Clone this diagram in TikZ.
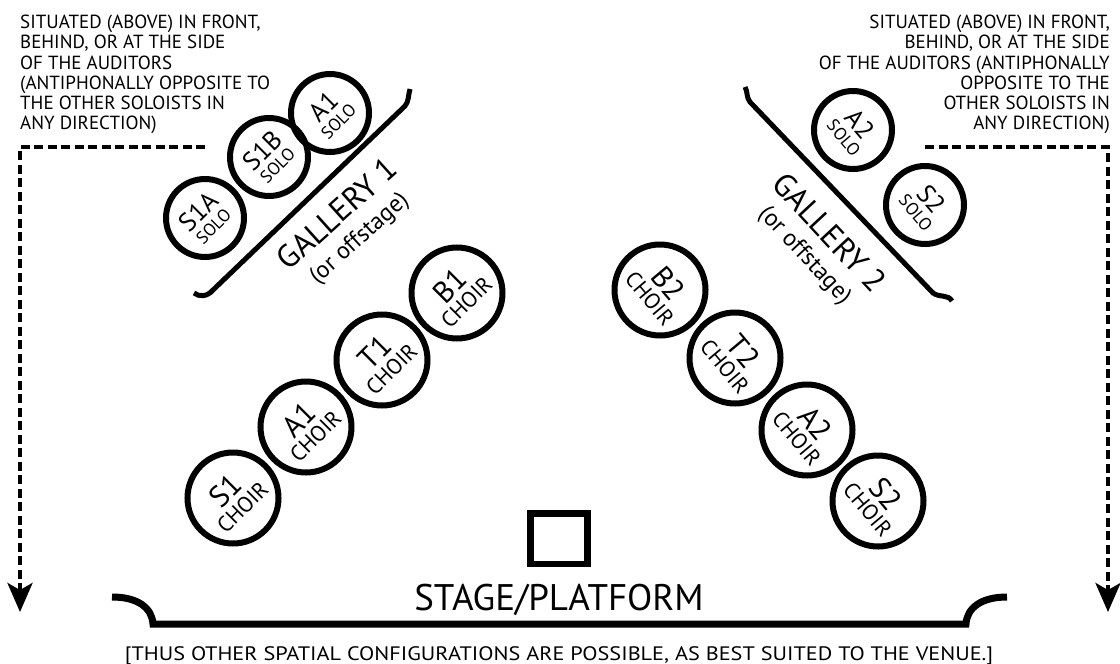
\documentclass[tikz,border=0pt]{standalone}
\usepackage{fontspec}
\setmainfont{PT Sans}
\usetikzlibrary{arrows.meta}
\newcommand\choirlab[1]{#1\\{\fontsize{22}{22}\selectfont CHOIR}}
\newcommand\sololab[1]{#1\\{\fontsize{17.5}{17.5}\selectfont SOLO}}
\begin{document}
\begin{tikzpicture}[x=1pt,y=-1pt,
  seat/.style={circle, draw, line width=6pt, inner sep=0pt, align=center},
  choir/.style={seat, minimum size=91pt, font=\fontsize{30}{21}\selectfont},
  solo/.style={seat, minimum size=78pt, font=\fontsize{26}{18}\selectfont},
  gal/.style={line width=5pt},
  note/.style={font=\fontsize{19}{20.2}\selectfont, inner sep=0pt},
  guide/.style={line width=4pt, dash pattern=on 9pt off 4.5pt, -{Stealth[length=29pt,width=25pt,inset=7pt]}},
  galtext/.style={align=center, inner sep=0pt, font=\fontsize{32}{29}\selectfont},
]
\useasboundingbox (0,0) rectangle (1120,664);

% notes
\node[note, anchor=north west, align=left] (noteL) at (20,15) {SITUATED (ABOVE) IN FRONT,\\BEHIND, OR AT THE SIDE\\OF THE AUDITORS\\(ANTIPHONALLY OPPOSITE TO\\THE OTHER SOLOISTS IN\\ANY DIRECTION)};
\node[note, anchor=north east, align=right] (noteR) at (1110,15) {SITUATED (ABOVE) IN FRONT,\\BEHIND, OR AT THE SIDE\\OF THE AUDITORS (ANTIPHONALLY\\OPPOSITE TO THE\\OTHER SOLOISTS IN\\ANY DIRECTION)};

% left solo
\node[solo, rotate=45] (s1a) at (205,218) {\sololab{S1A}};
\node[solo, rotate=45] (s1b) at (269,157) {\sololab{S1B}};
\node[solo, rotate=45] (a1s) at (330,113) {\sololab{A1}};
% right solo
\node[solo, rotate=-50] (a2s) at (853,130) {\sololab{A2}};
\node[solo, rotate=-50] (s2s) at (925,205) {\sololab{S2}};

% left choir
\node[choir, rotate=45] (s1c) at (233,498) {\choirlab{S1}};
\node[choir, rotate=45] (a1c) at (306,427) {\choirlab{A1}};
\node[choir, rotate=45] (t1c) at (382,360) {\choirlab{T1}};
\node[choir, rotate=45] (b1c) at (457,293) {\choirlab{B1}};
% right choir
\node[choir, rotate=-50] (b2c) at (660,290) {\choirlab{B2}};
\node[choir, rotate=-50] (t2c) at (735,358) {\choirlab{T2}};
\node[choir, rotate=-50] (a2c) at (807,430) {\choirlab{A2}};
\node[choir, rotate=-50] (s2c) at (878,501) {\choirlab{S2}};

% galleries
\draw[gal] (194,293) .. controls (199,297) and (207,297) .. (213,290) -- (405,106) .. controls (409,101) and (408,96) .. (410,89);
\draw[gal] (745,87) .. controls (748,92) and (746,97) .. (750,102) -- (933,293) .. controls (940,298) and (948,294) .. (952,301);
\node[galtext, rotate=42] (g1) at (348,226) {GALLERY 1\\{\fontsize{24}{24}\selectfont (or offstage)}};
\node[galtext, rotate=-47] (g2) at (817,244) {GALLERY 2\\{\fontsize{24}{24}\selectfont (or offstage)}};

% stage
\node[draw, line width=6.5pt, minimum width=57pt, minimum height=50.5pt, inner sep=0pt] (box) at (559,538.5) {};
\node[anchor=base, inner sep=0pt] (stage) at (559,610) {\fontsize{37}{37}\selectfont STAGE/PLATFORM};
\draw[line width=7pt] (112,597) .. controls (138,597) and (152,608) .. (153,624) -- (966,624) .. controls (967,608) and (981,597) .. (1007,597);
\node[anchor=base, inner sep=0pt] (foot) at (559,660) {\fontsize{19.5}{19.5}\selectfont\scalebox{1.14}[1]{[THUS OTHER SPATIAL CONFIGURATIONS ARE POSSIBLE, AS BEST SUITED TO THE VENUE.]}};

% guides
\coordinate (gLs) at (205,147);
\coordinate (gLc) at (20,147);
\coordinate (gLe) at (20,612);
\coordinate (gRs) at (925,147);
\coordinate (gRc) at (1108,147);
\coordinate (gRe) at (1108,612);
\draw[guide] (gLs) -- (gLc) -- (gLe);
\draw[guide] (gRs) -- (gRc) -- (gRe);
\end{tikzpicture}
\end{document}
